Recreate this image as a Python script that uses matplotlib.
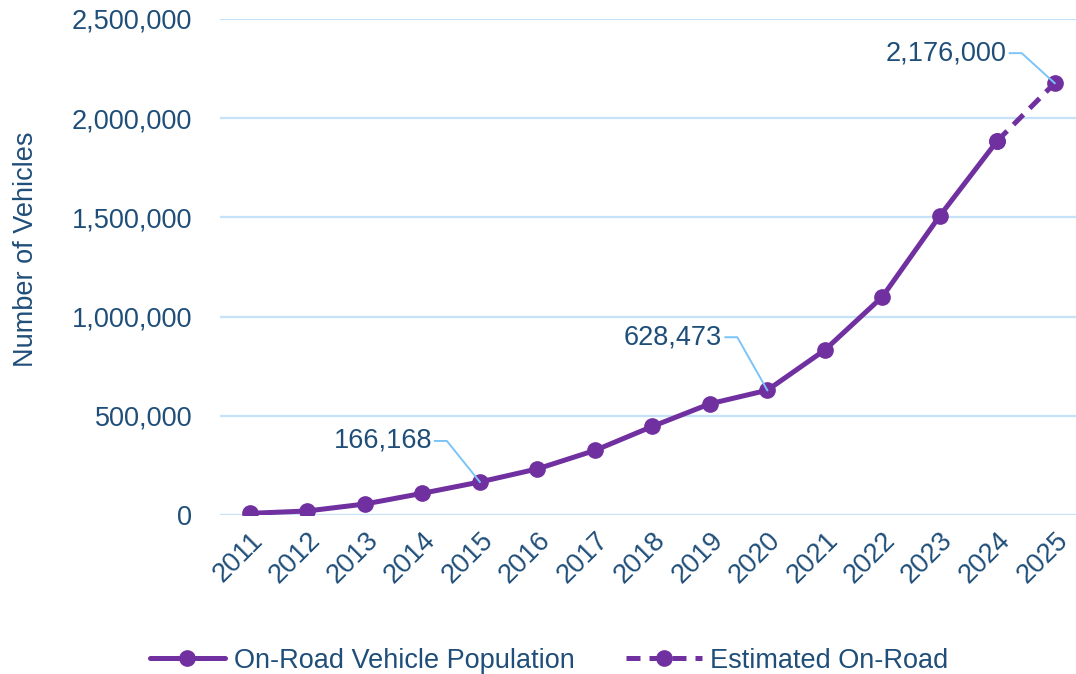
import numpy as np
import matplotlib
matplotlib.use('Agg')
import matplotlib.pyplot as plt
from matplotlib.ticker import FuncFormatter

plt.rcParams['font.family'] = ['Liberation Sans', 'DejaVu Sans']

#Data
years = [2011, 2012, 2013, 2014, 2015, 2016, 2017, 2018, 2019, 2020, 2021, 2022, 2023, 2024]
vehicles = [8000, 20000, 55000, 109000, 166168, 232000, 325000, 446000, 560000, 628473,
            831000, 1099000, 1507000, 1885000]
est_years = [2024, 2025]
est_vehicles = [1885000, 2176000]

# labelled points: (year, value, elbow dx, elbow dy) in pixels
callouts = [(2015, 166168, -33, 41), (2020, 628473, -30, 53), (2025, 2176000, -33, 30)]

purple = '#7030A0'
navy = '#1F4E79'
grid_c = '#C6E2F8'
leader = '#7CC4F8'

fig = plt.figure(figsize=(10.76, 6.74), dpi=100)
ax = fig.add_axes([0.2045, 0.236, 0.7955, 0.736])

ax.plot(years, vehicles, color=purple, lw=3.6, marker='o', ms=11,
        solid_capstyle='round', label='On-Road Vehicle Population', zorder=3)
ax.plot(est_years, est_vehicles, color=purple, lw=3.6, marker='o', ms=11,
        dashes=(2.8, 1.8), label='Estimated On-Road', zorder=3)

ax.set_ylim(0, 2500000)
ax.set_xlim(2010.48, 2025.37)
ax.set_yticks(np.arange(0, 2500001, 500000))
ax.yaxis.set_major_formatter(FuncFormatter(lambda v, p: '{:,.0f}'.format(v)))
ax.set_xticks(years + [2025])
ax.set_xticklabels([str(y) for y in years + [2025]], rotation=45, ha='right',
                   rotation_mode='anchor')
ax.grid(axis='y', color=grid_c, lw=1.6)
ax.set_axisbelow(True)
for s in ax.spines.values():
    s.set_visible(False)
ax.tick_params(length=0, labelsize=19.5, colors=navy)
ax.tick_params(axis='y', pad=20)
ax.tick_params(axis='x', pad=9)
ax.set_ylabel('Number of Vehicles', fontsize=19.5, color=navy)
ax.yaxis.set_label_coords(-0.211, 0.535)

inv = ax.transData.inverted()
for yr, val, dx, dy in callouts:
    p0 = ax.transData.transform((yr, val))
    pts = [p0, (p0[0] + dx, p0[1] + dy), (p0[0] + dx - 12, p0[1] + dy)]
    pts = inv.transform(pts)
    ax.plot(pts[:, 0], pts[:, 1], color=leader, lw=1.4, zorder=4, clip_on=False)
    ax.annotate('{:,}'.format(val), xy=(yr, val), xytext=(dx - 15, dy),
                textcoords='offset pixels', ha='right', va='center',
                fontsize=19.5, color=navy)

leg = fig.legend(loc='lower center', bbox_to_anchor=(0.51, -0.036), ncol=2,
                 frameon=False, fontsize=19.5, handlelength=2.8, columnspacing=1.9,
                 handletextpad=0.3)
for t in leg.get_texts():
    t.set_color(navy)

fig.savefig('out.png', dpi=100)
